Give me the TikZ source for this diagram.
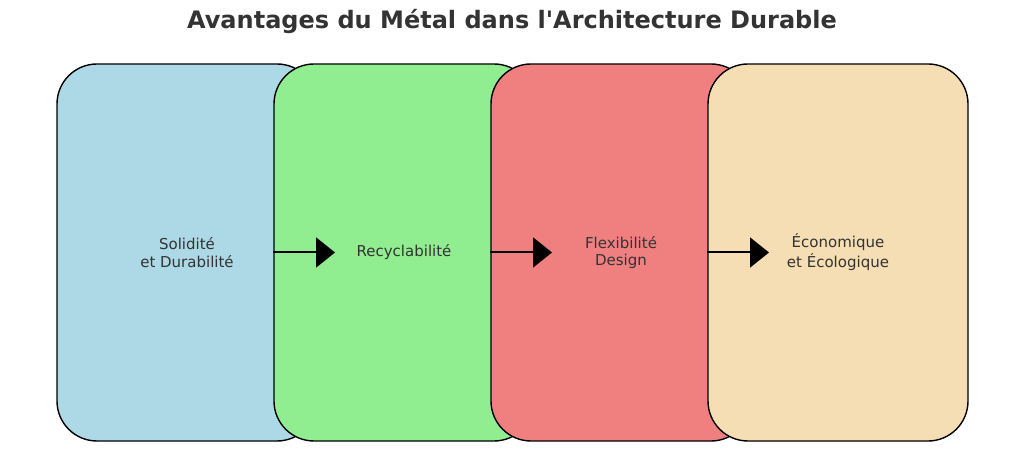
\documentclass[tikz,border=0pt]{standalone}
\usepackage{fontspec}
\setmainfont{DejaVu Sans}
\newfontfamily\plaindejavu{DejaVu Sans}
\usetikzlibrary{arrows.meta}
\definecolor{cblue}{HTML}{ADD8E6}
\definecolor{cgreen}{HTML}{90EE90}
\definecolor{cred}{HTML}{F08080}
\definecolor{cwheat}{HTML}{F5DEB3}
\definecolor{ctext}{HTML}{333333}
\begin{document}
\begin{tikzpicture}[x=1pt,y=1pt,
  card/.style={draw=black, line width=1.4pt, rounded corners=40pt,
    minimum width=260pt, minimum height=377pt, inner sep=0pt,
    text=ctext, align=center, font=\fontsize{15}{17.5}\selectfont},
  flow/.style={draw=black, line width=2pt, -{Triangle[length=19pt,width=30pt]}}]
\useasboundingbox (0,0) rectangle (1024,471);
\fill[white] (0,0) rectangle (1024,471);
\node[text=ctext, font=\plaindejavu\fontsize{24}{28}\selectfont\bfseries] (title) at (512,450) {Avantages du Métal dans l'Architecture Durable};
\node[card, fill=cblue] (b1) at (187,218.5) {Solidité\\et Durabilité};
\node[card, fill=cgreen] (b2) at (404,218.5) {Recyclabilité};
\node[card, fill=cred] (b3) at (621,218.5) {Flexibilité\\Design};
\node[card, fill=cwheat] (b4) at (838,218.5) {Économique\\[2.5pt]et Écologique};
\coordinate (t1) at (335,218.5);
\coordinate (t2) at (552,218.5);
\coordinate (t3) at (769,218.5);
\draw[flow] (b2.west) -- (t1);
\draw[flow] (b3.west) -- (t2);
\draw[flow] (b4.west) -- (t3);
\end{tikzpicture}
\end{document}
